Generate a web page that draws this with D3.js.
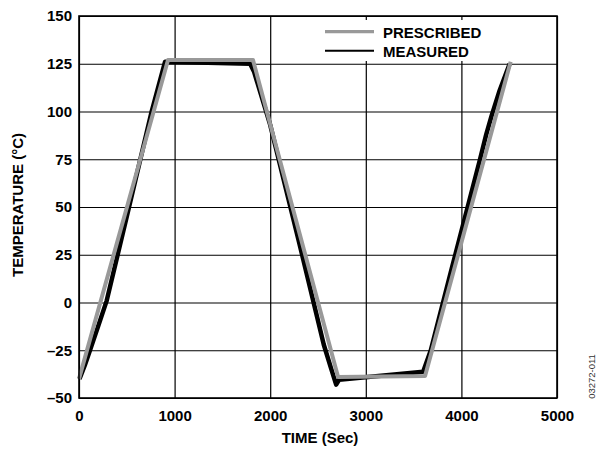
<!DOCTYPE html>
<html>
<head>
<meta charset="utf-8">
<script src="https://cdn.jsdelivr.net/npm/d3@7"></script>
<style>
  body { margin: 0; background: #fff; }
  svg { display: block; font-family: Arial, "Liberation Sans", sans-serif; }
</style>
</head>
<body>
<svg id="chart" width="597" height="452"></svg>
<script>
// values
var prescribedTime = [0, 931, 1820, 2710, 3620, 4515];
var prescribedTemp = [-40, 127, 127, -39, -38.5, 126];

var measuredTime = [5, 60, 115, 200, 290, 500, 760, 900, 1790, 1830, 2000, 2300, 2560, 2640, 2690, 2720, 3600, 3680, 3900, 4195, 4260, 4317, 4400, 4505];
var measuredTemp = [-40, -33, -25, -12.5, 1, 45, 100, 126, 125, 121, 93, 32, -22, -35, -43, -40.5, -36.3, -25, 18, 75, 88, 98, 111, 125];

var xTicks = [0, 1000, 2000, 3000, 4000, 5000];
var yTicks = [-50, -25, 0, 25, 50, 75, 100, 125, 150];
var legendNames = ['PRESCRIBED', 'MEASURED'];

/*************************************************************************/

var svg = d3.select('#chart');
var margin = { left: 79, right: 40, top: 16, bottom: 54 };
var width = 597 - margin.left - margin.right;
var height = 452 - margin.top - margin.bottom;

var xScale = d3.scaleLinear().domain([0, 5000]).range([0, width]);
var yScale = d3.scaleLinear().domain([-50, 150]).range([height, 0]);

var origin = svg.append('g').attr('transform', 'translate(' + margin.left + ',' + margin.top + ')');

// grid
origin.append('g')
  .call(d3.axisBottom(xScale).tickValues(xTicks).tickSize(height).tickFormat(''))
  .call(g => g.select('.domain').remove())
  .selectAll('line').attr('stroke', '#000').attr('stroke-width', 1.2);

origin.append('g')
  .call(d3.axisLeft(yScale).tickValues(yTicks).tickSize(-width).tickFormat(''))
  .call(g => g.select('.domain').remove())
  .selectAll('line').attr('stroke', '#000').attr('stroke-width', 1.2);

// tick labels
var xAxis = origin.append('g').attr('transform', 'translate(0,' + height + ')')
  .call(d3.axisBottom(xScale).tickValues(xTicks).tickSize(0).tickPadding(12).tickFormat(d3.format('d')));
xAxis.select('.domain').remove();
xAxis.selectAll('text').attr('font-size', 15).attr('font-weight', 'bold').attr('font-family', 'Arial, "Liberation Sans", sans-serif').attr('fill', '#000');

var yAxis = origin.append('g')
  .call(d3.axisLeft(yScale).tickValues(yTicks).tickSize(0).tickPadding(7)
    .tickFormat(d => d < 0 ? '\u2013' + Math.abs(d) : d));
yAxis.select('.domain').remove();
yAxis.selectAll('text').attr('font-size', 15).attr('font-weight', 'bold').attr('font-family', 'Arial, "Liberation Sans", sans-serif').attr('fill', '#000');

// legend background blanks the grid behind it
origin.append('rect')
  .attr('x', 318 - margin.left).attr('y', 20 - margin.top)
  .attr('width', 174).attr('height', 41)
  .attr('fill', '#fff');

// series
var lineGen = d3.line().x(d => xScale(d[0])).y(d => yScale(d[1]));
var measured = measuredTime.map((t, i) => [t, measuredTemp[i]]);
var prescribed = prescribedTime.map((t, i) => [t, prescribedTemp[i]]);

origin.append('path').attr('d', lineGen(measured))
  .attr('fill', 'none').attr('stroke', '#000').attr('stroke-width', 4.5).attr('stroke-linejoin', 'round');
origin.append('path').attr('d', lineGen(prescribed))
  .attr('fill', 'none').attr('stroke', '#999').attr('stroke-width', 4).attr('stroke-linejoin', 'round');

// frame
origin.append('rect').attr('width', width).attr('height', height)
  .attr('fill', 'none').attr('stroke', '#000').attr('stroke-width', 1.6);

// legend
var legendColors = ['#999', '#000'];
var legendWidths = [3.3, 2];
var legend = svg.append('g');
legendNames.forEach((name, i) => {
  var y = 31.7 + i * 19;
  legend.append('line').attr('x1', 325).attr('x2', 374).attr('y1', y).attr('y2', y)
    .attr('stroke', legendColors[i]).attr('stroke-width', legendWidths[i]);
  legend.append('text').attr('x', 383).attr('y', y + 6.3).text(name)
    .attr('font-size', 15).attr('font-weight', 'bold');
});

// axis titles
svg.append('text').attr('x', margin.left + width / 2 + 2).attr('y', 443)
  .attr('text-anchor', 'middle').attr('font-size', 15).attr('font-weight', 'bold')
  .text('TIME (Sec)');

svg.append('text').attr('transform', 'translate(23,205) rotate(-90)')
  .attr('text-anchor', 'middle').attr('font-size', 15).attr('font-weight', 'bold')
  .text('TEMPERATURE (°C)');

// figure id
svg.append('text').attr('transform', 'translate(595,376.5) rotate(-90)')
  .attr('text-anchor', 'middle').attr('font-size', 9.5).attr('fill', '#333')
  .text('03272-011');
</script>
</body>
</html>
